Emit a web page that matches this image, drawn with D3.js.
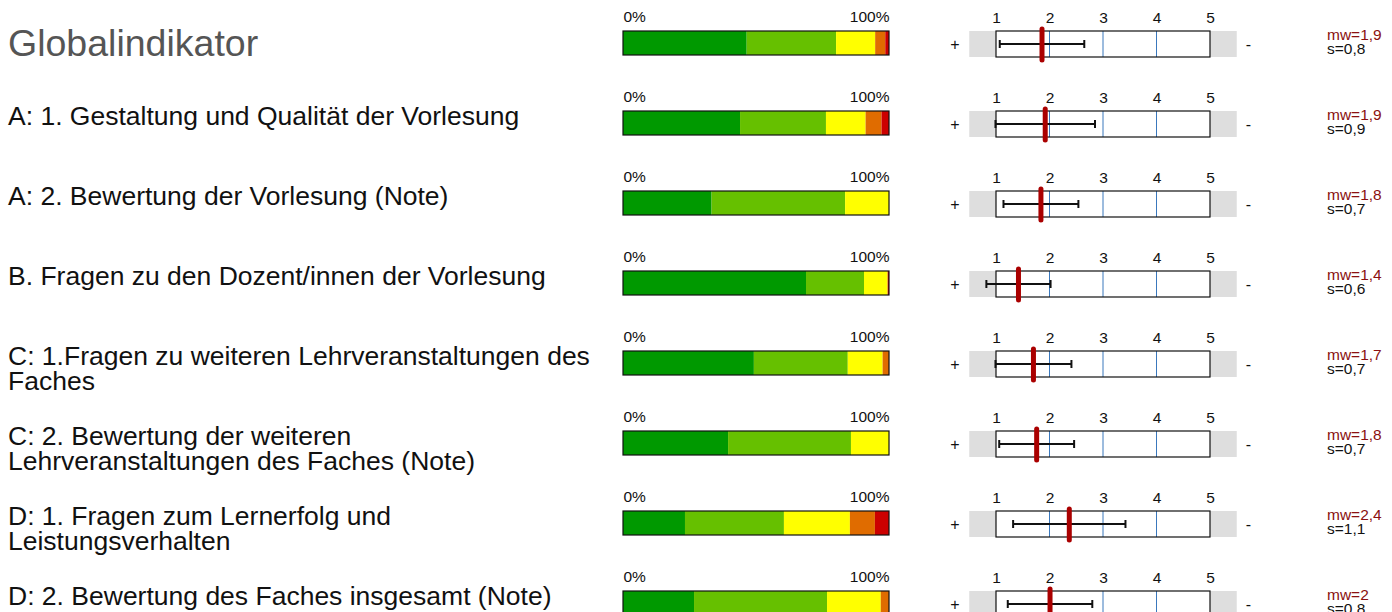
<!DOCTYPE html>
<html>
<head>
<meta charset="utf-8">
<script src="https://cdn.jsdelivr.net/npm/d3@7"></script>
<style>
  html, body { margin: 0; padding: 0; background: #fff; }
  svg { display: block; font-family: "Liberation Sans", Arial, sans-serif; }
</style>
</head>
<body>
<svg id="chart" width="1392" height="612"></svg>
<script>
// ---- data ----
const categories = [
  ["Globalindikator"],
  ["A: 1. Gestaltung und Qualität der Vorlesung"],
  ["A: 2. Bewertung der Vorlesung (Note)"],
  ["B. Fragen zu den Dozent/innen der Vorlesung"],
  ["C: 1.Fragen zu weiteren Lehrveranstaltungen des", "Faches"],
  ["C: 2. Bewertung der weiteren", "Lehrveranstaltungen des Faches (Note)"],
  ["D: 1. Fragen zum Lernerfolg und", "Leistungsverhalten"],
  ["D: 2. Bewertung des Faches insgesamt (Note)"]
];
// answer distribution (percent) for grades 1..5
const grade1 = [46.5, 44.0, 33.3, 68.8, 49.2, 39.5, 23.3, 26.7];
const grade2 = [33.6, 32.3, 50.2, 21.8, 35.3, 46.2, 37.2, 50.0];
const grade3 = [14.7, 14.9, 16.5, 8.9, 13.1, 14.3, 24.8, 20.2];
const grade4 = [3.8, 6.0, 0, 0, 2.4, 0, 9.4, 3.1];
const grade5 = [1.4, 2.8, 0, 0.5, 0, 0, 5.3, 0];
// mean and standard deviation
const means = [1.86, 1.92, 1.84, 1.42, 1.70, 1.76, 2.37, 2.01];
const sds   = [0.79, 0.93, 0.70, 0.60, 0.71, 0.70, 1.05, 0.79];
const pctTicks = [0, 100];
const noteTicks = [1, 2, 3, 4, 5];

// ---- layout ----
const svg = d3.select("#chart");
const rowTop = i => 31 + 80 * i;
const xPct = d3.scaleLinear().domain([0, 100]).range([623, 889]);
const xNote = d3.scaleLinear().domain([1, 5]).range([996, 1210]);
const colors = ["#009900", "#66c000", "#ffff00", "#e06c00", "#cc0000"];

const rows = categories.map((c, i) => ({
  i, label: c, g1: grade1[i], g2: grade2[i], g3: grade3[i], g4: grade4[i], g5: grade5[i],
  mean: means[i], sd: sds[i]
}));
const keys = ["g1", "g2", "g3", "g4", "g5"];
const stacked = d3.stack().keys(keys)(rows);

const fmt = v => {
  const r = Math.round(v * 10) / 10;
  return (Number.isInteger(r) ? String(r) : r.toFixed(1)).replace(".", ",");
};
const FONT = "Liberation Sans, Arial, sans-serif";

rows.forEach(r => {
  const top = rowTop(r.i);
  const g = svg.append("g");

  // labels
  const t = g.append("text")
    .attr("x", 8)
    .attr("y", r.i === 0 ? top + 25 : top + 14)
    .attr("font-size", r.i === 0 ? 37.5 : 26.5)
    .attr("fill", r.i === 0 ? "#555" : "#111");
  r.label.forEach((line, k) => {
    t.append("tspan").attr("x", 8).attr("dy", k === 0 ? 0 : 25).text(line);
  });

  // percent axis
  const pa = g.append("g").attr("transform", `translate(0,${top - 6})`)
    .call(d3.axisTop(xPct).tickValues(pctTicks).tickSize(0).tickFormat(d => d + "%"));
  pa.select(".domain").remove();
  pa.selectAll("text").attr("font-size", 15.5).attr("font-family", FONT)
    .attr("fill", "#111")
    .attr("text-anchor", d => d === 0 ? "start" : "end");

  // stacked bar
  stacked.forEach((layer, k) => {
    const d = layer[r.i];
    if (d[1] - d[0] <= 0) return;
    g.append("rect")
      .attr("x", xPct(d[0])).attr("y", top)
      .attr("width", xPct(d[1]) - xPct(d[0])).attr("height", 24)
      .attr("fill", colors[k]);
  });
  g.append("rect")
    .attr("x", xPct(0)).attr("y", top)
    .attr("width", xPct(100) - xPct(0)).attr("height", 24)
    .attr("fill", "none").attr("stroke", "#111").attr("stroke-width", 1.2);

  // note box
  g.append("rect")
    .attr("x", xNote(0.5)).attr("y", top)
    .attr("width", xNote(5.5) - xNote(0.5)).attr("height", 26)
    .attr("fill", "#dedede");
  g.append("rect")
    .attr("x", xNote(1)).attr("y", top)
    .attr("width", xNote(5) - xNote(1)).attr("height", 26)
    .attr("fill", "#fff");
  [2, 3, 4].forEach(v => {
    g.append("line")
      .attr("x1", xNote(v)).attr("x2", xNote(v))
      .attr("y1", top).attr("y2", top + 26)
      .attr("stroke", "#3a78bd").attr("stroke-width", 1);
  });
  g.append("rect")
    .attr("x", xNote(1)).attr("y", top)
    .attr("width", xNote(5) - xNote(1)).attr("height", 26)
    .attr("fill", "none").attr("stroke", "#111").attr("stroke-width", 1.2);

  const na = g.append("g").attr("transform", `translate(0,${top - 5})`)
    .call(d3.axisTop(xNote).tickValues(noteTicks).tickSize(0).tickFormat(d3.format("d")));
  na.select(".domain").remove();
  na.selectAll("text").attr("font-size", 15.5).attr("font-family", FONT)
    .attr("fill", "#111");

  g.append("text").attr("x", xNote(0.23)).attr("y", top + 19)
    .attr("text-anchor", "middle").attr("font-size", 16).attr("fill", "#111").text("+");
  g.append("text").attr("x", xNote(5.72)).attr("y", top + 19)
    .attr("text-anchor", "middle").attr("font-size", 16).attr("fill", "#111").text("-");

  // error bar
  const cy = top + 13;
  const lo = xNote(r.mean - r.sd), hi = xNote(r.mean + r.sd);
  g.append("line").attr("x1", lo).attr("x2", hi).attr("y1", cy).attr("y2", cy)
    .attr("stroke", "#111").attr("stroke-width", 2);
  [lo, hi].forEach(x => g.append("line").attr("x1", x).attr("x2", x)
    .attr("y1", cy - 4).attr("y2", cy + 4).attr("stroke", "#111").attr("stroke-width", 2));

  // mean marker
  g.append("line")
    .attr("x1", xNote(r.mean)).attr("x2", xNote(r.mean))
    .attr("y1", top - 2).attr("y2", top + 29)
    .attr("stroke", "#aa0000").attr("stroke-width", 5).attr("stroke-linecap", "round");

  // stats text
  g.append("text").attr("x", 1327).attr("y", top + 9)
    .attr("font-size", 15.5).attr("fill", "#8b1010").text("mw=" + fmt(r.mean));
  g.append("text").attr("x", 1327).attr("y", top + 23)
    .attr("font-size", 15.5).attr("fill", "#111").text("s=" + fmt(r.sd));
});
</script>
</body>
</html>
